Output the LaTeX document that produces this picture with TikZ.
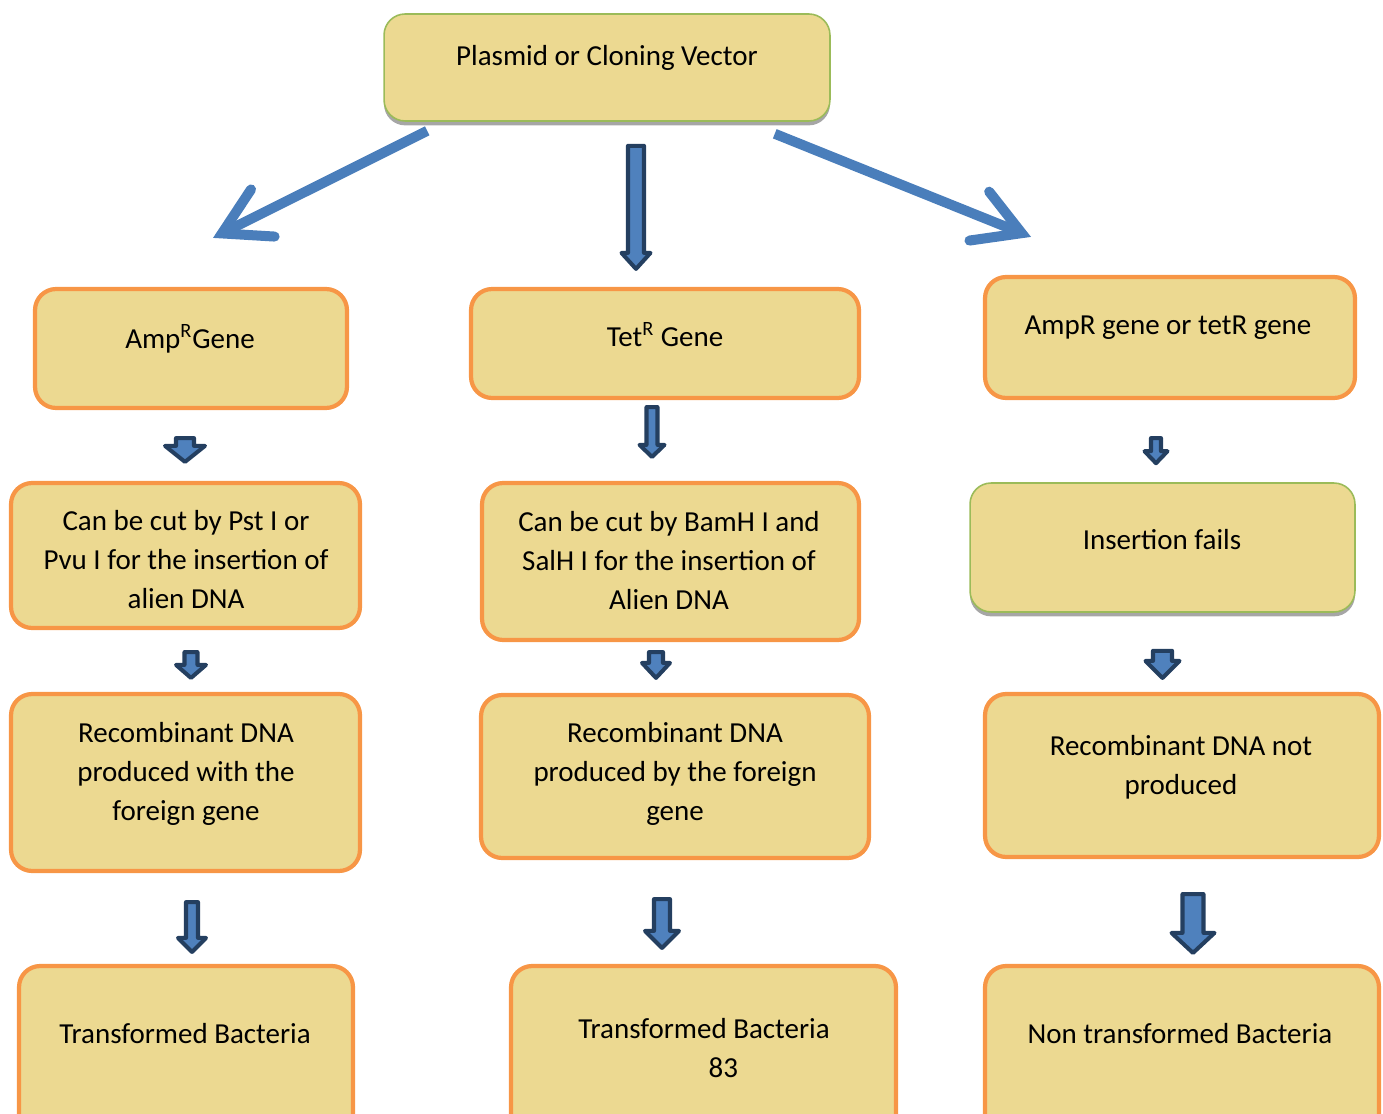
\documentclass[tikz,border=0pt]{standalone}
\usepackage{fontspec}
\setmainfont{Carlito}
\usetikzlibrary{arrows.meta,shadows,calc}
\definecolor{tanfill}{RGB}{236,217,145}
\definecolor{orangeline}{RGB}{247,150,70}
\definecolor{greenline}{RGB}{155,187,89}
\definecolor{arrowblue}{RGB}{74,126,187}
\definecolor{blockblue}{RGB}{79,129,189}
\definecolor{blocknavy}{RGB}{36,63,96}
\def\pxu{0.569pt}
\tikzset{
	obox/.style={draw=orangeline, line width=2.4pt, fill=tanfill, rounded corners=12pt, inner sep=0pt},
	gbox/.style={draw=greenline, line width=0.9pt, fill=tanfill, rounded corners=12pt, inner sep=0pt,
		drop shadow={shadow xshift=0pt, shadow yshift=-2.5pt, fill=black!35, opacity=1}},
	txt/.style={font=\fontsize{16.5}{22.2}\selectfont, align=center, inner sep=0pt},
	diag/.style={draw=arrowblue, line width=5.7pt, -{Straight Barb[length=26pt,width=30pt,line cap=round]}},
	barr/.style n args={3}{draw=blocknavy, fill=blockblue, line width=2.3pt, line join=round,
		to path={let \p1=(\tikztostart), \p2=(\tikztotarget) in
			(\x1-#1*\pxu,\y1) -- (\x1+#1*\pxu,\y1) -- (\x1+#1*\pxu,\y2+#3*\pxu) -- (\x1+#2*\pxu,\y2+#3*\pxu)
			-- (\x1,\y2) -- (\x1-#2*\pxu,\y2+#3*\pxu) -- (\x1-#1*\pxu,\y2+#3*\pxu) -- cycle}}
}
\begin{document}
\begin{tikzpicture}[x=0.02cm,y=-0.02cm]
	\useasboundingbox (0,0) rectangle (1383,1114);
	
	% top
	\node[gbox, minimum width=8.92cm, minimum height=2.14cm] (top) at (607,67.5) {};
	\node[txt] (topT) at (607,58) {Plasmid or Cloning Vector};
	
	% first row
	\node[obox, minimum width=6.24cm, minimum height=2.38cm] (amp) at (191,348.5) {};
	\node[txt] (ampT) at (190,339) {Amp\textsuperscript{R}Gene};
	\node[obox, minimum width=7.76cm, minimum height=2.18cm] (tet) at (665,343.5) {};
	\node[txt] (tetT) at (665,335) {Tet\textsuperscript{R} Gene};
	\node[obox, minimum width=7.40cm, minimum height=2.42cm] (ampor) at (1170,337.5) {};
	\node[txt] (amporT) at (1168,328) {AmpR gene or tetR gene};
	
	% second row
	\node[obox, minimum width=6.98cm, minimum height=2.90cm] (cut1) at (185.5,555.5) {};
	\node[txt] (cut1T) at (186,560) {Can be cut by Pst I or\\Pvu I for the insertion of\\alien DNA};
	\node[obox, minimum width=7.54cm, minimum height=3.14cm] (cut2) at (670.5,561.5) {};
	\node[txt] (cut2T) at (669,561) {Can be cut by BamH I and\\SalH I for the insertion of\\Alien DNA};
	\node[gbox, minimum width=7.70cm, minimum height=2.58cm] (fail) at (1162.5,547.5) {};
	\node[txt] (failT) at (1162,540) {Insertion fails};
	
	% third row
	\node[obox, minimum width=6.98cm, minimum height=3.54cm] (rec1) at (185.5,782.5) {};
	\node[txt] (rec1T) at (186,774) {Recombinant DNA\\produced with the\\foreign gene};
	\node[obox, minimum width=7.76cm, minimum height=3.26cm] (rec2) at (675,776.5) {};
	\node[txt] (rec2T) at (675,774) {Recombinant DNA\\produced by the foreign\\gene};
	\node[obox, minimum width=7.88cm, minimum height=3.26cm] (rec3) at (1182,775.5) {};
	\node[txt] (rec3T) at (1181,767.5) {Recombinant DNA not\\produced};
	
	% last row
	\node[obox, minimum width=6.68cm, minimum height=3.40cm] (tb1) at (186,1051) {};
	\node[txt] (tb1T) at (185,1034) {Transformed Bacteria};
	\node[obox, minimum width=7.70cm, minimum height=3.40cm] (tb2) at (703.5,1051) {};
	\node[txt] (tb2T) at (704,1048.5) {Transformed Bacteria\\\hspace*{22pt}83};
	\node[obox, minimum width=7.88cm, minimum height=3.40cm] (ntb) at (1182,1051) {};
	\node[txt] (ntbT) at (1180,1034) {Non transformed Bacteria};
	
	% arrows from the top box
	\coordinate (ampIn) at ([shift={(22,-49)}]amp.north);
	\coordinate (amporIn) at ([shift={(-139,-38)}]ampor.north);
	\draw[diag] ([shift={(44,9)}]top.south west) -- (ampIn);
	\draw[diag] ([shift={(-56,12)}]top.south east) -- (amporIn);
	\draw[barr={8}{14.5}{16}] ([shift={(29,24)}]top.south) to ([shift={(0,-18)}]tet.north);
	
	% block arrows down the columns
	\draw[barr={9}{20}{16}] ([shift={(-6,28)}]amp.south) to ([shift={(0,-19)}]cut1.north);
	\draw[barr={5.5}{12.5}{12}] ([shift={(-13,7)}]tet.south) to ([shift={(0,-24)}]cut2.north);
	\draw[barr={5}{11.5}{12}] ([shift={(-14,38)}]ampor.south) to ([shift={(0,-19)}]fail.north);
	
	\draw[barr={6.5}{15}{13}] ([shift={(5.5,22)}]cut1.south) to ([shift={(0,-14)}]rec1.north);
	\draw[barr={7}{14}{15}] ([shift={(-14.5,10)}]cut2.south) to ([shift={(0,-15)}]rec2.north);
	\draw[barr={9.5}{17}{17}] ([shift={(0,38)}]fail.south) to ([shift={(0,-14)}]rec3.north);
	
	\draw[barr={6}{14}{14}] ([shift={(6.5,29)}]rec1.south) to ([shift={(0,-12)}]tb1.north);
	\draw[barr={8}{17}{17}] ([shift={(-13,39)}]rec2.south) to ([shift={(0,-16)}]tb2.north);
	\draw[barr={10.5}{21.5}{20}] ([shift={(11,35)}]rec3.south) to ([shift={(0,-11)}]ntb.north);
\end{tikzpicture}
\end{document}
